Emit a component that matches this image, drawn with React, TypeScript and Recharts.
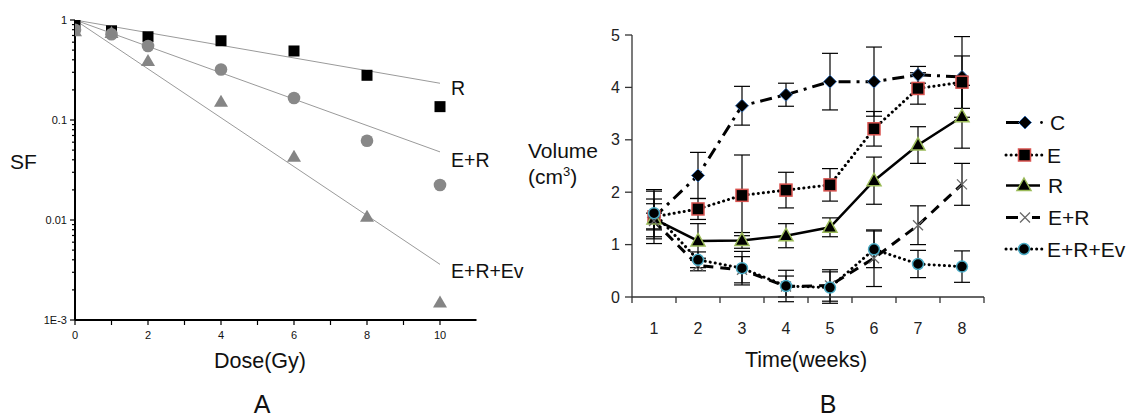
import React from 'react';
import { ComposedChart, Line, Scatter, XAxis, YAxis, ErrorBar, Legend } from 'recharts';

// ---- Panel A: surviving fraction vs dose ----
const doses = [0, 1, 2, 4, 6, 8, 10];
const sfR = [0.9, 0.78, 0.68, 0.62, 0.49, 0.28, 0.136];
const sfER = [0.8, 0.72, 0.55, 0.32, 0.166, 0.062, 0.0224];
const sfERE = [0.77, 0.74, 0.39, 0.152, 0.043, 0.0108, 0.0015];

// fitted lines (end points only)
const fitDoses = [0, 10];
const fitR = [1, 0.233];
const fitER = [1, 0.048];
const fitERE = [1, 0.0036];

const doseTicks = [0, 1, 2, 3, 4, 5, 6, 7, 8, 9, 10];
const sfMajorTicks = [0.001, 0.01, 0.1, 1];
const sfMajorLabels = ['1E-3', '0.01', '0.1', '1'];
const sfMinorTicks = [
  0.002, 0.003, 0.004, 0.005, 0.006, 0.007, 0.008, 0.009,
  0.02, 0.03, 0.04, 0.05, 0.06, 0.07, 0.08, 0.09,
  0.2, 0.3, 0.4, 0.5, 0.6, 0.7, 0.8, 0.9,
];

// ---- Panel B: tumour volume vs time ----
const weeks = [1, 2, 3, 4, 5, 6, 7, 8];
const volC = [1.52, 2.32, 3.65, 3.86, 4.11, 4.11, 4.24, 4.2];
const errC = [0.5, 0.44, 0.37, 0.22, 0.54, 0.66, 0.16, 0.77];
const volE = [1.53, 1.68, 1.94, 2.04, 2.14, 3.21, 3.98, 4.1];
const errE = [0.25, 0.2, 0.77, 0.34, 0.31, 0.33, 0.3, 0.5];
const volR = [1.49, 1.07, 1.08, 1.17, 1.33, 2.22, 2.9, 3.44];
const errR = [0.38, 0.33, 0.15, 0.23, 0.18, 0.45, 0.35, 0.6];
const volER = [1.45, 0.6, 0.52, 0.2, 0.22, 0.74, 1.37, 2.15];
const errER = [0.15, 0.1, 0.25, 0.2, 0.3, 0.54, 0.37, 0.4];
const volERE = [1.6, 0.71, 0.55, 0.21, 0.18, 0.91, 0.63, 0.58];
const errERE = [0.45, 0.15, 0.32, 0.3, 0.3, 0.35, 0.26, 0.3];

const weekTicks = [0.5, 1, 1.5, 2, 2.5, 3, 3.5, 4, 4.5, 5, 5.5, 6, 6.5, 7, 7.5, 8, 8.5];
const volumeTicks = [0, 1, 2, 3, 4, 5];
const seriesNames = ['C', 'E', 'R', 'E+R', 'E+R+Ev'];

const FONT = '"Liberation Sans", Arial, sans-serif';

const toPoints = (xs: number[], ys: number[]) => xs.map((dose, i) => ({ dose, sf: ys[i] }));

const volumeData = weeks.map((week, i) => ({
  week,
  C: volC[i], Cerr: errC[i],
  E: volE[i], Eerr: errE[i],
  R: volR[i], Rerr: errR[i],
  ER: volER[i], ERerr: errER[i],
  ERE: volERE[i], EREerr: errERE[i],
}));

// ---- ticks ----
const SfTick = (props: any) => {
  const { x, y, payload } = props;
  const idx = sfMajorTicks.indexOf(payload.value);
  const major = idx >= 0;
  return (
    <g>
      <line x1={x - (major ? 5 : 3)} x2={x} y1={y} y2={y} stroke="#000" strokeWidth={1.2} />
      {major && (
        <text x={x - 8} y={y} dy={4} textAnchor="end" fontSize={11} fontFamily={FONT} fill="#111">
          {sfMajorLabels[idx]}
        </text>
      )}
    </g>
  );
};

const DoseTick = (props: any) => {
  const { x, y, payload } = props;
  const labelled = payload.value % 2 === 0;
  return (
    <g>
      <line x1={x} x2={x} y1={y} y2={y + 5} stroke="#000" strokeWidth={1.2} />
      {labelled && (
        <text x={x} y={y + 19} textAnchor="middle" fontSize={11} fontFamily={FONT} fill="#111">
          {payload.value}
        </text>
      )}
    </g>
  );
};

const VolumeTick = (props: any) => {
  const { x, y, payload } = props;
  return (
    <g>
      <line x1={x - 7} x2={x} y1={y} y2={y} stroke="#333" strokeWidth={1.3} />
      <text x={x - 12} y={y} dy={5.5} textAnchor="end" fontSize={16} fontFamily={FONT} fill="#222">
        {payload.value}
      </text>
    </g>
  );
};

const WeekTick = (props: any) => {
  const { x, y, payload } = props;
  if (Number.isInteger(payload.value)) {
    return (
      <text x={x} y={y + 37} textAnchor="middle" fontSize={16} fontFamily={FONT} fill="#222">
        {payload.value}
      </text>
    );
  }
  return <line x1={x} x2={x} y1={y} y2={y + 6} stroke="#333" strokeWidth={1.3} />;
};

// ---- markers ----
const Diamond = ({ cx, cy }: any) => (
  <polygon
    points={`${cx},${cy - 6.5} ${cx + 6.5},${cy} ${cx},${cy + 6.5} ${cx - 6.5},${cy}`}
    fill="#000"
    stroke="#3a6fb0"
    strokeWidth={1}
  />
);
const Square = ({ cx, cy }: any) => (
  <rect x={cx - 6} y={cy - 6} width={12} height={12} fill="#000" stroke="#d9534f" strokeWidth={1.5} />
);
const Triangle = ({ cx, cy }: any) => (
  <polygon
    points={`${cx},${cy - 7.5} ${cx + 7},${cy + 5} ${cx - 7},${cy + 5}`}
    fill="#000"
    stroke="#9bbb59"
    strokeWidth={1.5}
  />
);
const Cross = ({ cx, cy }: any) => (
  <g stroke="#666" strokeWidth={1.3}>
    <line x1={cx - 5} y1={cy - 5} x2={cx + 5} y2={cy + 5} />
    <line x1={cx - 5} y1={cy + 5} x2={cx + 5} y2={cy - 5} />
  </g>
);
const Dot = ({ cx, cy }: any) => (
  <circle cx={cx} cy={cy} r={5.5} fill="#000" stroke="#4bacc6" strokeWidth={1.5} />
);

const dotWith = (Shape: any) => (p: any) => <Shape key={`d-${p.index}`} cx={p.cx} cy={p.cy} />;

// ---- legend for panel B ----
function VolumeLegend() {
  const rows = [22.5, 55, 85.5, 117.5, 149];
  const tx = [50, 47, 48, 48, 47];
  return (
    <svg width={130} height={170} style={{ overflow: 'visible' }}>
      {/* C */}
      <line x1={6} x2={19} y1={rows[0]} y2={rows[0]} stroke="#000" strokeWidth={3} />
      <Diamond cx={25} cy={rows[0]} />
      <circle cx={41.5} cy={rows[0]} r={1.4} fill="#000" />
      {/* E */}
      <line x1={6} x2={42} y1={rows[1]} y2={rows[1]} stroke="#000" strokeWidth={3} strokeDasharray="0.1 5" strokeLinecap="round" />
      <Square cx={24.5} cy={rows[1]} />
      {/* R */}
      <line x1={6} x2={40} y1={rows[2]} y2={rows[2]} stroke="#000" strokeWidth={2.5} />
      <Triangle cx={24} cy={rows[2]} />
      {/* E+R */}
      <line x1={6} x2={18} y1={rows[3]} y2={rows[3]} stroke="#000" strokeWidth={3} />
      <line x1={32} x2={40} y1={rows[3]} y2={rows[3]} stroke="#000" strokeWidth={3} />
      <Cross cx={25} cy={rows[3]} />
      {/* E+R+Ev */}
      <line x1={6} x2={42} y1={rows[4]} y2={rows[4]} stroke="#000" strokeWidth={3} strokeDasharray="0.1 5" strokeLinecap="round" />
      <Dot cx={24} cy={rows[4]} />
      {seriesNames.map((name, i) => (
        <text key={name} x={tx[i]} y={rows[i] + 7.5} fontSize={21} fontFamily={FONT} fill="#111">
          {name}
        </text>
      ))}
    </svg>
  );
}

export default function App() {
  return (
    <div style={{ position: 'absolute', left: 0, top: 0, width: 1130, height: 419, background: '#fff', fontFamily: FONT }}>
      {/* Panel A */}
      <div style={{ position: 'absolute', left: 0, top: 0 }}>
        <ComposedChart width={500} height={419} margin={{ top: 20, right: 23.5, bottom: 69, left: 0 }}>
          <XAxis
            type="number"
            dataKey="dose"
            domain={[0, 11]}
            ticks={doseTicks}
            interval={0}
            allowDataOverflow
            height={30}
            tickSize={0}
            tickMargin={0}
            tickLine={false}
            axisLine={{ stroke: '#000', strokeWidth: 2 }}
            tick={DoseTick}
          />
          <YAxis
            type="number"
            dataKey="sf"
            scale="log"
            domain={[0.001, 1]}
            ticks={[...sfMajorTicks, ...sfMinorTicks]}
            interval={0}
            allowDataOverflow
            width={75}
            tickSize={0}
            tickMargin={0}
            tickLine={false}
            axisLine={{ stroke: '#000', strokeWidth: 2 }}
            tick={SfTick}
          />
          <Line data={toPoints(fitDoses, fitR)} dataKey="sf" stroke="#9a9a9a" strokeWidth={1} dot={false} isAnimationActive={false} />
          <Line data={toPoints(fitDoses, fitER)} dataKey="sf" stroke="#9a9a9a" strokeWidth={1} dot={false} isAnimationActive={false} />
          <Line data={toPoints(fitDoses, fitERE)} dataKey="sf" stroke="#9a9a9a" strokeWidth={1} dot={false} isAnimationActive={false} />
          <Scatter
            data={toPoints(doses, sfR)}
            dataKey="sf"
            isAnimationActive={false}
            shape={(p: any) => <rect x={p.cx - 5.5} y={p.cy - 5.5} width={11} height={11} fill="#000" />}
          />
          <Scatter
            data={toPoints(doses, sfER)}
            dataKey="sf"
            isAnimationActive={false}
            shape={(p: any) => <circle cx={p.cx} cy={p.cy} r={6.3} fill="#888" />}
          />
          <Scatter
            data={toPoints(doses, sfERE)}
            dataKey="sf"
            isAnimationActive={false}
            shape={(p: any) => (
              <polygon points={`${p.cx},${p.cy - 7} ${p.cx + 7},${p.cy + 5} ${p.cx - 7},${p.cy + 5}`} fill="#858585" />
            )}
          />
        </ComposedChart>
      </div>

      {/* Panel B */}
      <div style={{ position: 'absolute', left: 500, top: 0 }}>
        <ComposedChart width={630} height={419} data={volumeData} margin={{ top: 35, right: 146, bottom: 92, left: 0 }}>
          <XAxis
            type="number"
            dataKey="week"
            domain={[0.5, 8.5]}
            ticks={weekTicks}
            interval={0}
            height={30}
            tickSize={0}
            tickMargin={0}
            tickLine={false}
            axisLine={{ stroke: '#333', strokeWidth: 1.3 }}
            tick={WeekTick}
          />
          <YAxis
            type="number"
            domain={[0, 5]}
            ticks={volumeTicks}
            interval={0}
            allowDataOverflow
            width={132}
            tickSize={0}
            tickMargin={0}
            tickLine={false}
            axisLine={{ stroke: '#333', strokeWidth: 1.3 }}
            tick={VolumeTick}
          />
          <Line dataKey="C" stroke="#000" strokeWidth={3} strokeDasharray="12 6 3 6" dot={dotWith(Diamond)} isAnimationActive={false}>
            <ErrorBar dataKey="Cerr" width={8} stroke="#000" strokeWidth={1.2} direction="y" />
          </Line>
          <Line dataKey="E" stroke="#000" strokeWidth={3} strokeDasharray="0.1 5" strokeLinecap="round" dot={dotWith(Square)} isAnimationActive={false}>
            <ErrorBar dataKey="Eerr" width={8} stroke="#000" strokeWidth={1.2} direction="y" />
          </Line>
          <Line dataKey="R" stroke="#000" strokeWidth={2.5} dot={dotWith(Triangle)} isAnimationActive={false}>
            <ErrorBar dataKey="Rerr" width={8} stroke="#000" strokeWidth={1.2} direction="y" />
          </Line>
          <Line dataKey="ER" stroke="#000" strokeWidth={3} strokeDasharray="10 7" dot={dotWith(Cross)} isAnimationActive={false}>
            <ErrorBar dataKey="ERerr" width={8} stroke="#000" strokeWidth={1.2} direction="y" />
          </Line>
          <Line dataKey="ERE" stroke="#000" strokeWidth={3} strokeDasharray="0.1 5" strokeLinecap="round" dot={dotWith(Dot)} isAnimationActive={false}>
            <ErrorBar dataKey="EREerr" width={8} stroke="#000" strokeWidth={1.2} direction="y" />
          </Line>
          <Legend
            layout="vertical"
            align="center"
            verticalAlign="middle"
            content={() => <VolumeLegend />}
            wrapperStyle={{ left: 500, top: 100, width: 130, height: 170 }}
          />
        </ComposedChart>
      </div>

      {/* axis titles and panel letters */}
      <svg width={1130} height={419} style={{ position: 'absolute', left: 0, top: 0, pointerEvents: 'none' }}>
        <g fontFamily={FONT} fill="#111">
          <text x={10} y={169} fontSize={21}>SF</text>
          <text x={260} y={368} fontSize={21.5} textAnchor="middle">Dose(Gy)</text>
          <text x={262} y={413} fontSize={25} textAnchor="middle">A</text>
          <text x={451} y={95} fontSize={19.5}>R</text>
          <text x={451} y={167} fontSize={19.5}>E+R</text>
          <text x={451} y={278} fontSize={19.5}>E+R+Ev</text>
          <text x={528} y={158} fontSize={21}>Volume</text>
          <text x={528} y={184} fontSize={21}>
            (cm<tspan fontSize={13} dy={-8}>3</tspan><tspan dy={8}>)</tspan>
          </text>
          <text x={806} y={367} fontSize={21.5} textAnchor="middle">Time(weeks)</text>
          <text x={828} y={413} fontSize={25} textAnchor="middle">B</text>
        </g>
      </svg>
    </div>
  );
}
